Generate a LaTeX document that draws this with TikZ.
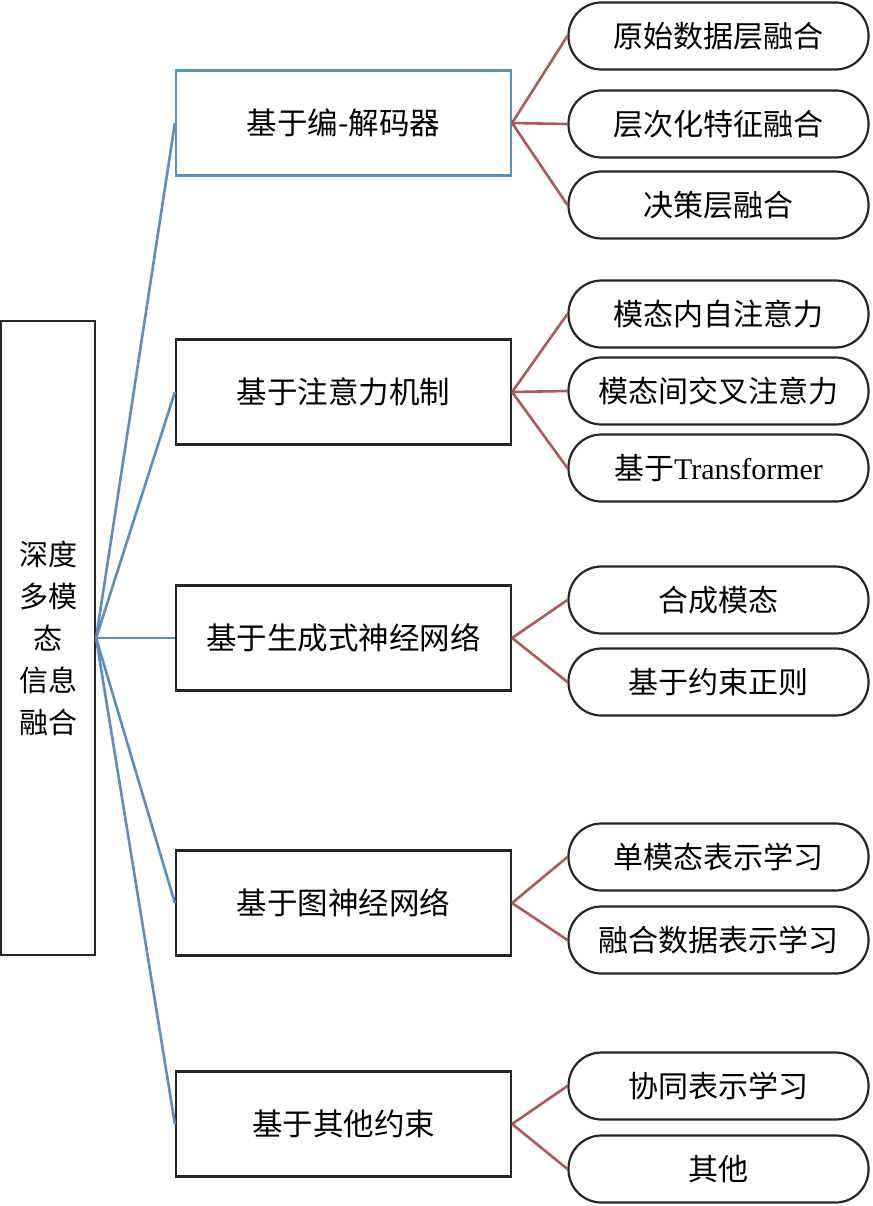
\documentclass[tikz,border=0pt]{standalone}
\usepackage{fontspec}
\setmainfont{Liberation Serif}
\newfontfamily\cjk{Noto Sans CJK SC}
\definecolor{lineblue}{HTML}{5B8EBF}
\definecolor{linered}{HTML}{B05858}
\tikzset{
  rootbox/.style={draw=black!85, line width=2.2pt, minimum width=94pt, minimum height=634pt, inner sep=0pt, align=center, font=\cjk\fontsize{29}{42}\selectfont},
  midbox/.style={draw=black!85, line width=2.2pt, minimum width=335pt, minimum height=105pt, inner sep=0pt, font=\cjk\fontsize{30.5}{30}\selectfont},
  leafbox/.style={draw=black!85, line width=2.2pt, rounded corners=33pt, minimum width=300pt, minimum height=67pt, inner sep=0pt, font=\cjk\fontsize{30}{30}\selectfont},
}
\begin{document}
\begin{tikzpicture}[x=1pt, y=-1pt]
      \useasboundingbox (0,0) rectangle (872,1206);
      \node[rootbox] (root) at (48,638) {深度\\多模\\态\\信息\\融合};
      \draw
        (343.5,123) node[midbox, draw=lineblue] (m1){基于编-解码器}
        (343.5,392) node[midbox] (m2){基于注意力机制}
        (343.5,638) node[midbox] (m3){基于生成式神经网络}
        (343.5,903) node[midbox] (m4){基于图神经网络}
        (343.5,1124) node[midbox] (m5){基于其他约束};
      \draw
        (718.5,36) node[leafbox] (l1){原始数据层融合}
        (718.5,124) node[leafbox] (l2){层次化特征融合}
        (718.5,205) node[leafbox] (l3){决策层融合}
        (718.5,314) node[leafbox] (l4){模态内自注意力}
        (718.5,391) node[leafbox] (l5){模态间交叉注意力}
        (718.5,468) node[leafbox] (l6){基于{\rmfamily Transformer}}
        (718.5,600) node[leafbox] (l7){合成模态}
        (718.5,682) node[leafbox] (l8){基于约束正则}
        (718.5,857) node[leafbox] (l9){单模态表示学习}
        (718.5,940) node[leafbox] (l10){融合数据表示学习}
        (718.5,1086) node[leafbox] (l11){协同表示学习}
        (718.5,1169) node[leafbox] (l12){其他};
      \begin{scope}[-, draw=lineblue, line width=2.6pt]
        \draw (root.east) to (m1.west);
        \draw (root.east) to (m2.west);
        \draw (root.east) to (m3.west);
        \draw (root.east) to (m4.west);
        \draw (root.east) to (m5.west);
      \end{scope}
      \begin{scope}[-, draw=linered, line width=2.6pt]
        \draw (m1.east) to (l1.west);
        \draw (m1.east) to (l2.west);
        \draw (m1.east) to (l3.west);
        \draw (m2.east) to (l4.west);
        \draw (m2.east) to (l5.west);
        \draw (m2.east) to (l6.west);
        \draw (m3.east) to (l7.west);
        \draw (m3.east) to (l8.west);
        \draw (m4.east) to (l9.west);
        \draw (m4.east) to (l10.west);
        \draw (m5.east) to (l11.west);
        \draw (m5.east) to (l12.west);
      \end{scope}
    \end{tikzpicture}
\end{document}
